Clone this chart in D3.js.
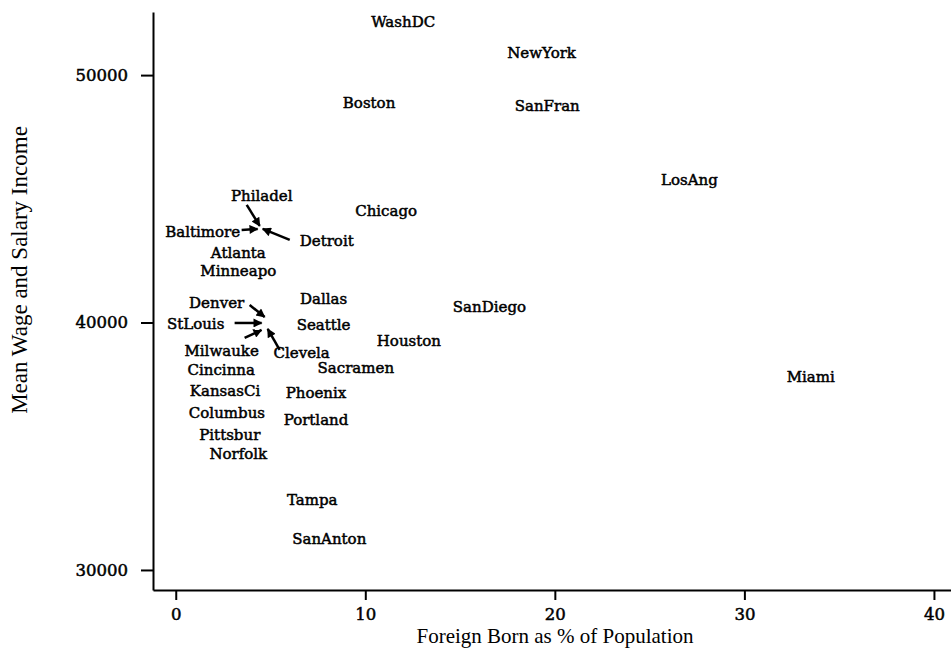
<!DOCTYPE html>
<html>
<head>
<meta charset="utf-8">
<script src="https://cdn.jsdelivr.net/npm/d3@7/dist/d3.min.js"></script>
<style>
  html, body { margin: 0; padding: 0; background: #fff; }
  svg { display: block; }
</style>
</head>
<body>
<svg id="chart" width="951" height="650"></svg>
<script>
// ---- data ----
const cities = ["WashDC","NewYork","Boston","SanFran","LosAng","Chicago","Philadel","Baltimore","Detroit",
  "Atlanta","Minneapo","Denver","StLouis","Milwauke","Clevela","Dallas","Seattle","SanDiego","Houston",
  "Cincinna","Sacramen","Miami","KansasCi","Phoenix","Columbus","Portland","Pittsbur","Norfolk","Tampa","SanAnton"];
const foreignBorn = [12.0, 19.3, 10.2, 19.6, 27.1, 11.1, 4.43, 4.32, 4.59,
  3.3, 3.3, 4.69, 4.53, 4.53, 4.85, 7.8, 7.8, 16.55, 12.3,
  2.4, 9.5, 33.5, 2.6, 7.4, 2.7, 7.4, 2.85, 3.3, 7.2, 8.1];
const meanWage = [52150, 50900, 48875, 48754, 45762, 44509, 43903, 43782, 43782,
  42812, 42084, 40225, 39982, 39699, 39739, 40952, 39901, 40629, 39255,
  38082, 38163, 37800, 37234, 37153, 36344, 36061, 35455, 34687, 32828, 31251];
const xTicks = [0, 10, 20, 30, 40];
const yTicks = [30000, 40000, 50000];
const xTitle = "Foreign Born as % of Population";
const yTitle = "Mean Wage and Salary Income";

// callout layout for crowded labels (pixel offsets: label centre, arrow start)
const callouts = {
  Philadel:  { label: [2, -30],  from: [-13, -21] },
  Baltimore: { label: [-55, 3],  from: [-16, 1] },
  Detroit:   { label: [64, 12],  from: [27, 11] },
  Denver:    { label: [-48, -14], from: [-15, -12] },
  StLouis:   { label: [-66, 1],  from: [-27, 0] },
  Milwauke:  { label: [-40, 21], from: [-17, 8] },
  Clevela:   { label: [34, 24],  from: [12, 21] }
};

// ---- chart ----
const svg = d3.select("#chart");
const x = d3.scaleLinear().domain([-1.2, 40.9]).range([153, 951]);
const y = d3.scaleLinear().domain([29190, 52550]).range([590, 12]);

const labelFont = "DejaVu Serif";
const titleFont = "Liberation Serif";

// arrow marker
svg.append("defs").append("marker")
  .attr("id", "ah").attr("viewBox", "0 0 10 10")
  .attr("refX", 9).attr("refY", 5)
  .attr("markerWidth", 4.5).attr("markerHeight", 3.6)
  .attr("orient", "auto").attr("markerUnits", "strokeWidth")
  .append("path").attr("d", "M0,0 L10,5 L0,10 z").attr("fill", "#000");

// axes
const xAxis = svg.append("g").attr("transform", "translate(0,590)")
  .call(d3.axisBottom(x).tickValues(xTicks).tickSize(10).tickSizeOuter(0).tickPadding(8).tickFormat(d3.format("d")));
const yAxis = svg.append("g").attr("transform", "translate(153,0)")
  .call(d3.axisLeft(y).tickValues(yTicks).tickSize(12).tickSizeOuter(0).tickPadding(13).tickFormat(d3.format("d")));
[xAxis, yAxis].forEach(g => {
  g.select(".domain").attr("stroke", "#000").attr("stroke-width", 2);
  g.selectAll(".tick line").attr("stroke", "#000").attr("stroke-width", 2);
  g.selectAll(".tick text").attr("fill", "#000")
    .attr("stroke", "#000").attr("stroke-width", 0.5)
    .style("font-family", labelFont).style("font-size", "16.5px");
});

// city points (labels)
const data = cities.map((c, i) => ({ name: c, fb: foreignBorn[i], w: meanWage[i] }));

svg.append("g").selectAll("line").data(data.filter(d => callouts[d.name])).join("line")
  .attr("x1", d => x(d.fb) + callouts[d.name].from[0])
  .attr("y1", d => y(d.w) + callouts[d.name].from[1])
  .attr("x2", d => x(d.fb))
  .attr("y2", d => y(d.w))
  .attr("stroke", "#000").attr("stroke-width", 2.5)
  .attr("marker-end", "url(#ah)");

svg.append("g").selectAll("text").data(data).join("text")
  .attr("x", d => x(d.fb) + (callouts[d.name] ? callouts[d.name].label[0] : 0))
  .attr("y", d => y(d.w) + (callouts[d.name] ? callouts[d.name].label[1] : 0))
  .attr("text-anchor", "middle").attr("dominant-baseline", "central")
  .style("font-family", labelFont).style("font-size", "15px").attr("fill", "#000")
  .attr("stroke", "#000").attr("stroke-width", 0.5)
  .text(d => d.name);

// titles
svg.append("text").attr("x", 555).attr("y", 643).attr("text-anchor", "middle")
  .style("font-family", titleFont).style("font-size", "21px").attr("fill", "#000")
  .text(xTitle);
svg.append("text").attr("transform", "translate(27,270) rotate(-90)").attr("text-anchor", "middle")
  .style("font-family", titleFont).style("font-size", "23px").attr("fill", "#000")
  .text(yTitle);
</script>
</body>
</html>
